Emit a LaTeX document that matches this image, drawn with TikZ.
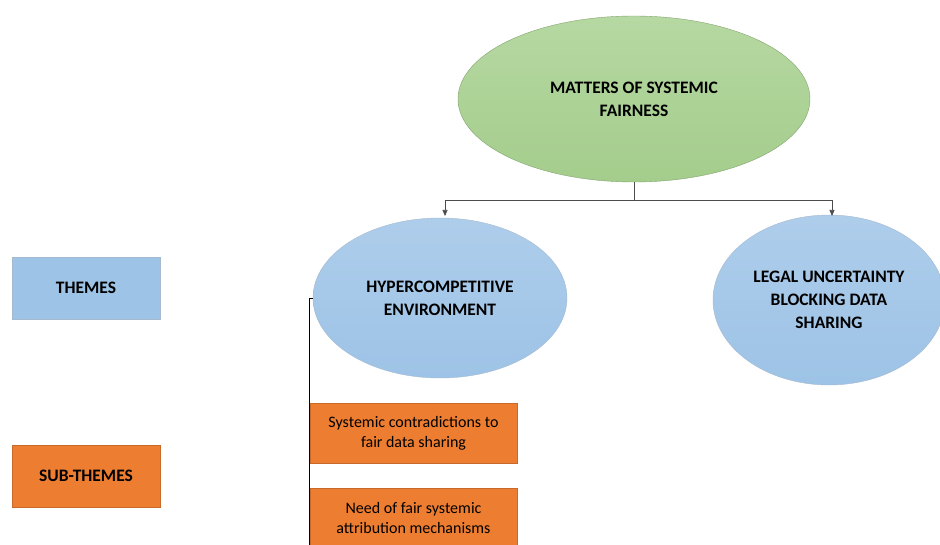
\documentclass[tikz,border=0pt]{standalone}
\usepackage{fontspec}
\setmainfont{Carlito}
\usetikzlibrary{shapes.geometric,arrows.meta}
\definecolor{themeblue}{HTML}{9DC3E6}
\definecolor{themebluetop}{HTML}{AECDEB}
\definecolor{rootgreen}{HTML}{A4CD8C}
\definecolor{rootgreentop}{HTML}{B6D8A2}
\definecolor{suborange}{HTML}{ED7D31}
\definecolor{edgegrey}{HTML}{7F9DBA}
\tikzset{
  root/.style={ellipse, minimum width=352pt, minimum height=166pt, top color=rootgreentop, bottom color=rootgreen, draw=rootgreen!80!black, line width=0.4pt, align=center, font=\bfseries\fontsize{17.5}{23}\selectfont},
  theme/.style={ellipse, top color=themebluetop, bottom color=themeblue, draw=edgegrey!70, line width=0.4pt, align=center, font=\bfseries\fontsize{17.5}{23}\selectfont},
  subtheme/.style={rectangle, fill=suborange, draw=suborange!85!black, line width=0.4pt, minimum width=207pt, align=center, font=\fontsize{16}{20}\selectfont},
  keybox/.style={rectangle, minimum width=148pt, minimum height=62pt, draw=edgegrey!70, line width=0.4pt, font=\bfseries\fontsize{17.5}{20}\selectfont},
  link/.style={draw=black!70, line width=0.7pt},
  arrowlink/.style={link, -{Triangle[length=6pt,width=5pt]}}
}
\begin{document}
\begin{tikzpicture}[x=1pt,y=-1pt]
\useasboundingbox (0,0) rectangle (940,545);
\clip (0,0) rectangle (940,545);
% legend boxes
\node[keybox, fill=themeblue] (legendthemes) at (86,288) {THEMES};
\node[keybox, fill=suborange, draw=suborange!85!black] (legendsub) at (86,476) {SUB-THEMES};
% root and themes
\node[root] (root) at (634,99) {MATTERS OF SYSTEMIC\\FAIRNESS};
\node[theme, minimum width=254pt, minimum height=160pt] (hyper) at (440,298) {HYPERCOMPETITIVE\\ENVIRONMENT};
\node[theme, minimum width=232pt, minimum height=170pt] (legal) at (829,300) {LEGAL UNCERTAINTY\\BLOCKING DATA\\SHARING};
% sub-themes
\node[subtheme, minimum height=60pt] (contra) at (413.5,433) {Systemic contradictions to\\fair data sharing};
\node[subtheme, minimum height=60pt] (attrib) at (413.5,518) {Need of fair systemic\\attribution mechanisms};
% connectors
\coordinate (split) at (634,200);
\coordinate (hypertop) at (445,216);
\coordinate (legaltop) at (832,216);
\draw[link] (root.south) -- (split);
\draw[arrowlink] (split) -| (hypertop);
\draw[arrowlink] (split) -| (legaltop);
\coordinate (rail) at (309,298);
\coordinate (railend) at (309,560);
\draw[draw=black, line width=0.9pt] (hyper.west) -- (rail) -- (railend);
\end{tikzpicture}
\end{document}
